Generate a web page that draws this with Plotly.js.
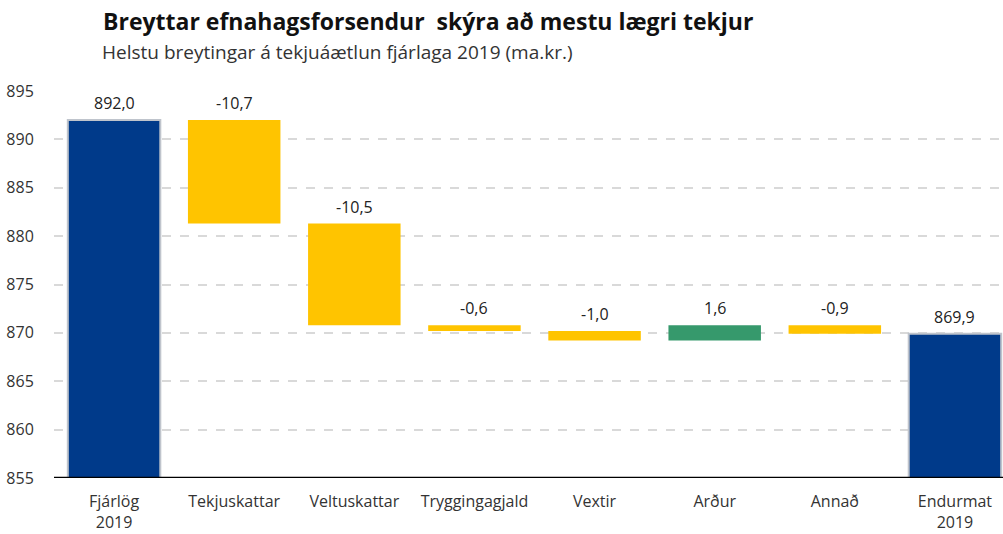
<!DOCTYPE html>
<html>
<head>
<meta charset="utf-8">
<script src="https://cdn.plot.ly/plotly-3.0.1.min.js"></script>
<style>html,body{margin:0;padding:0;background:#fff;}#chart{width:1003px;height:534px;}</style>
</head>
<body>
<div id="chart"></div>
<script>
const categories = ["Fjárlög<br>2019", "Tekjuskattar", "Veltuskattar", "Tryggingagjald", "Vextir", "Arður", "Annað", "Endurmat<br>2019"];
const values = [892.0, -10.7, -10.5, -0.6, -1.0, 1.6, -0.9, 869.9];
const measures = ["absolute", "relative", "relative", "relative", "relative", "relative", "relative", "total"];
const labels = ["892,0", "-10,7", "-10,5", "-0,6", "-1,0", "1,6", "-0,9", "869,9"];

// Compute bar tops for label placement from the data
let running = 0;
const tops = [];
values.forEach((v, i) => {
  if (measures[i] === "absolute") { running = v; tops.push(v); }
  else if (measures[i] === "total") { tops.push(running); }
  else { const before = running; running = running + v; tops.push(Math.max(before, running)); }
});

const FONT = "'Open Sans', 'DejaVu Sans', sans-serif";

const trace = {
  type: "waterfall",
  x: categories,
  y: values,
  measure: measures,
  base: 0,
  connector: {visible: false},
  decreasing: {marker: {color: "#FFC400"}},
  increasing: {marker: {color: "#36996C"}},
  totals: {marker: {color: "#003A8A", line: {color: "#BFC4CC", width: 2}}},
  textinfo: "none",
  hoverinfo: "none",
  width: 0.77
};

const annotations = categories.map((c, i) => ({
  x: c, y: tops[i], xref: "x", yref: "y",
  text: labels[i], showarrow: false, yanchor: "bottom", yshift: 4,
  font: {family: FONT, size: 16, color: "#222"}
}));
annotations.push({
  xref: "paper", yref: "paper", x: (103 - 54) / 949, y: 1, yshift: 39, xshift: -3,
  xanchor: "left", yanchor: "middle", showarrow: false,
  text: "Helstu breytingar á tekjuáætlun fjárlaga 2019 (ma.kr.)",
  font: {family: FONT, size: 19, color: "#333"}
});

const layout = {
  width: 1003, height: 534,
  margin: {l: 54, r: 0, t: 91, b: 56},
  paper_bgcolor: "#fff", plot_bgcolor: "#fff",
  showlegend: false,
  title: {
    text: "<b>Breyttar efnahagsforsendur  skýra að mestu lægri tekjur</b>",
    xref: "container", yref: "container", x: 103 / 1003, xanchor: "left",
    y: 1 - 22 / 534, yanchor: "middle",
    font: {family: FONT, size: 23, color: "#111"}
  },
  xaxis: {
    type: "category",
    range: [-0.5, 7.4],
    showgrid: false, zeroline: false,
    showline: false,
    ticks: "outside", ticklen: 9, tickcolor: "rgba(0,0,0,0)",
    tickfont: {family: FONT, size: 16, color: "#333"},
    fixedrange: true
  },
  yaxis: {
    range: [855, 895], dtick: 5, tick0: 855,
    showgrid: true, gridcolor: "#D9D9D9", gridwidth: 2, griddash: "dash",
    zeroline: false, showline: false,
    ticks: "outside", ticklen: 16, tickcolor: "rgba(0,0,0,0)",
    tickfont: {family: FONT, size: 16, color: "#333"},
    fixedrange: true
  },
  shapes: [{
    type: "line", xref: "paper", yref: "y", x0: 0, x1: 1, y0: 855, y1: 855,
    line: {color: "#000", width: 2.5}
  }],
  annotations: annotations
};

Plotly.newPlot("chart", [trace], layout, {displayModeBar: false, staticPlot: true});
</script>
</body>
</html>
